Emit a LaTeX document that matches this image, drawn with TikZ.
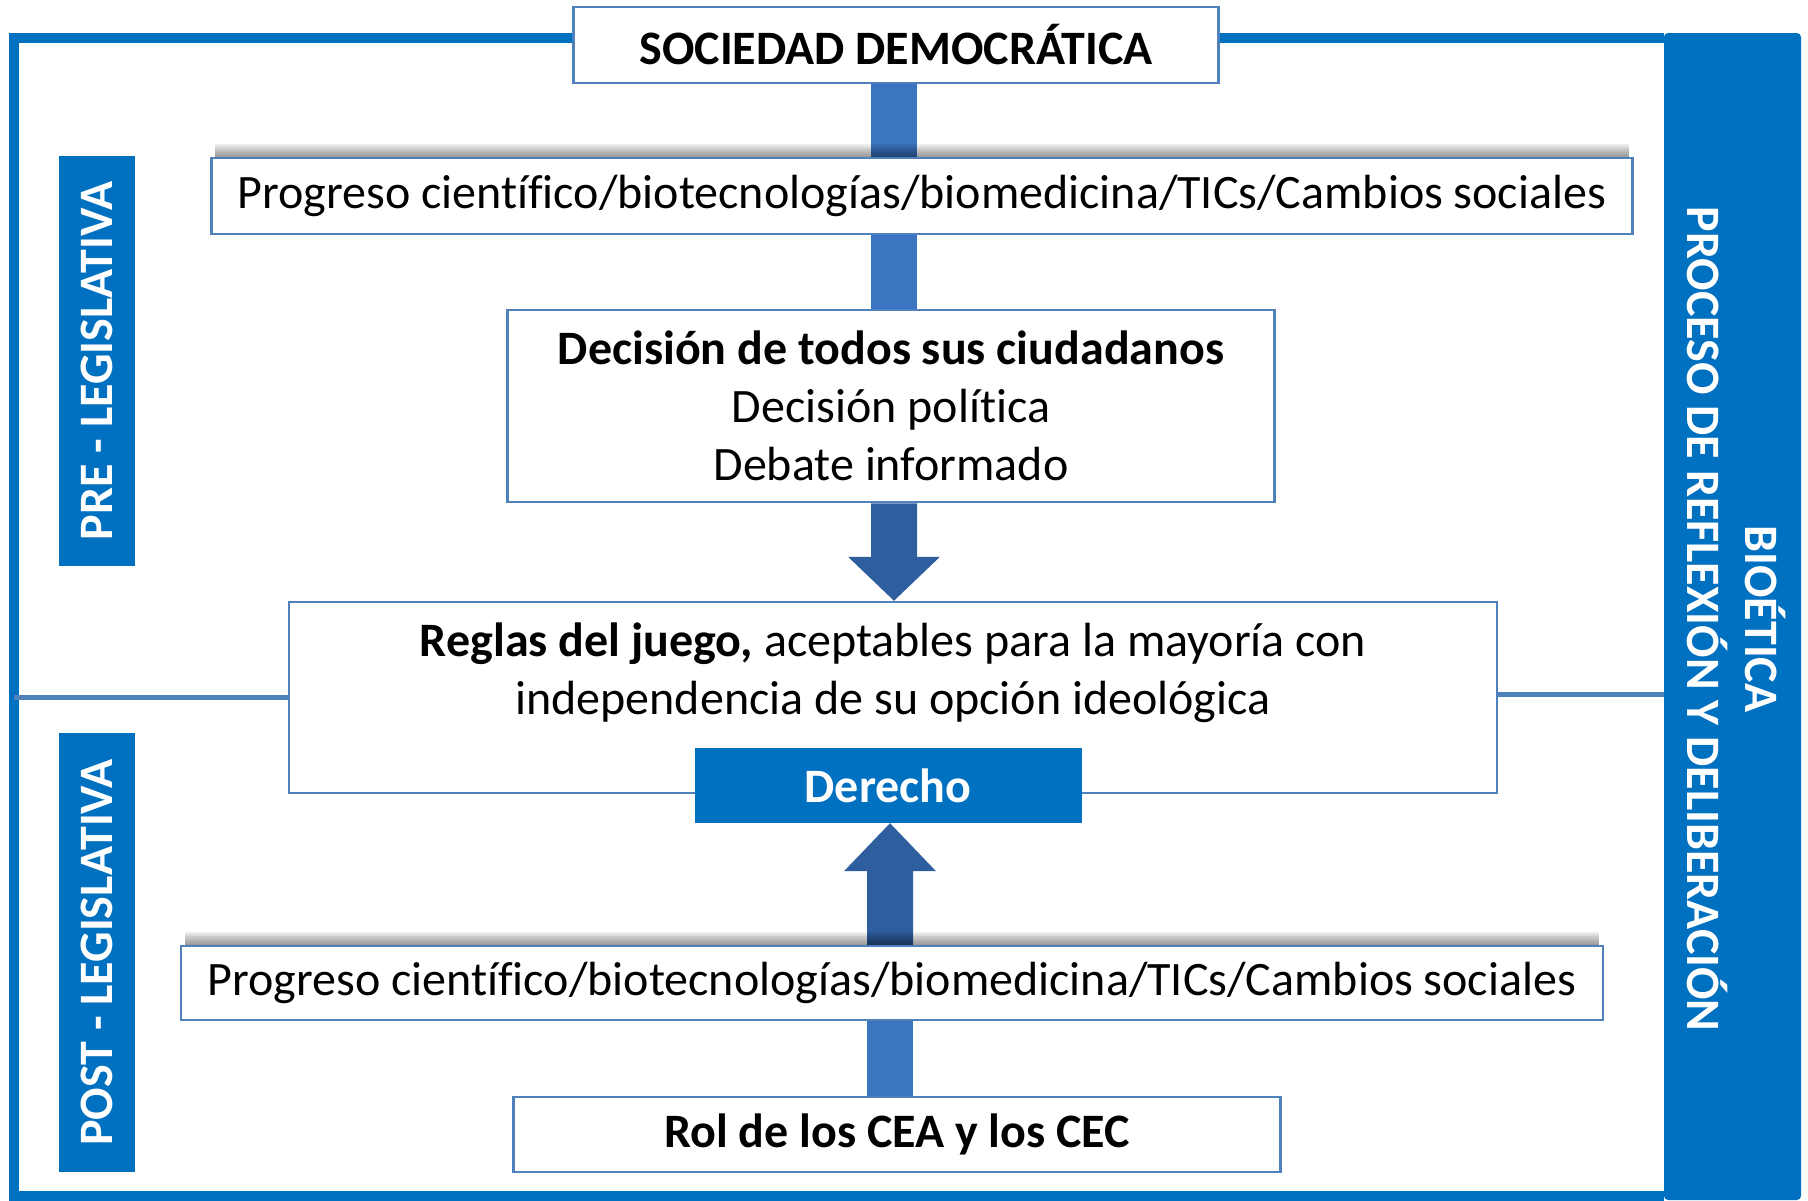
\documentclass[tikz,border=0pt]{standalone}
\usepackage{fontspec}
\setmainfont{Carlito}[Ligatures=NoCommon]
\usetikzlibrary{calc}
\definecolor{frameblue}{RGB}{0,112,192}
\definecolor{boxline}{RGB}{79,129,189}
\definecolor{shaftblue}{RGB}{59,117,193}
\definecolor{arrowblue}{RGB}{46,94,158}
\begin{document}
\begin{tikzpicture}[x=1pt,y=-1pt,
  txt/.style={font=\fontsize{48}{58}\selectfont},
  box/.style={draw=boxline, line width=2.5pt, fill=white, txt, align=center, inner sep=0pt},
  sidelabel/.style={fill=frameblue, text=white, inner sep=0pt, rotate=90,
     font=\fontsize{48}{58}\selectfont\bfseries, minimum height=76},
  shaft/.style={draw=shaftblue, line width=46pt},
  blockarrow/.style={fill=arrowblue},
  hline/.style={draw=boxline, line width=5pt},
  shadowstrip/.style={fill=black, opacity=0.07}]
\useasboundingbox (0,0) rectangle (1808,1200);
% outer frame and bar
\draw[frameblue, line width=10pt] (1664,38) -- (14,38) -- (14,1196) -- (1664,1196);
\fill[frameblue, rounded corners=4pt] (1664,33) rectangle (1801,1200);
\node[text=white, rotate=-90, align=center, inner sep=0pt,
      font=\fontsize{48}{58}\selectfont\bfseries] (bio) at (1736,619)
      {BIOÉTICA\\PROCESO DE REFLEXIÓN Y DELIBERACIÓN};
\coordinate (frameL) at (14,0);
\coordinate (barL) at (1664,0);
\coordinate (ax) at (894,0);
\coordinate (bx) at (890,0);
% side labels
\node[sidelabel, minimum width=410] (pre) at (97,361) {PRE - LEGISLATIVA};
\node[sidelabel, minimum width=439] (post) at (97,952.5) {POST - LEGISLATIVA};
% top box
\node[box, minimum width=645, minimum height=76] (soc) at (896,45) {\bfseries SOCIEDAD DEMOCRÁTICA};
\path (922,196) coordinate (b1c);
\path (893,697.5) coordinate (b3c);
% shaft soc -> b1 and b1 -> b2
\node[minimum width=1421, minimum height=76, inner sep=0pt] (b1g) at (b1c) {};
\draw[shaft] (soc.south -| ax) -- (b1g.north -| ax);
\foreach \i in {1,...,7}
  \fill[shadowstrip] ($(b1g.north west)+(4,-2*\i)$) rectangle ($(b1g.north east)+(-4,0)$);
\node[box, minimum width=1421, minimum height=76] (b1) at (b1c)
  {\raisebox{-3pt}{Progreso científico/biotecnologías/biomedicina/TICs/Cambios sociales}};
\node[box, minimum width=767, minimum height=192] (b2) at (891,406)
  {\bfseries Decisión de todos sus ciudadanos\\Decisión política\\Debate informado};
\draw[shaft] (b1.south -| ax) -- (b2.north -| ax);
% horizontal lines
\draw[hline] (b3c -| frameL) -- (b3c);
\draw[hline] ([yshift=3pt]b3c -| barL) -- ([yshift=3pt]b3c);
\node[box, minimum width=1208, minimum height=191] (b3) at (b3c) {};
\node[txt, align=center, inner sep=0pt] (b3t) at (893,673)
  {\textbf{Reglas del juego,} aceptables para la mayoría con\\independencia de su opción ideológica};
% down arrow
\fill[blockarrow] ($(b2.south -| ax)+(-23,0)$) -- ($(b3.north -| ax)+(-23,-44)$)
  -- ($(b3.north -| ax)+(-46,-44)$) -- (b3.north -| ax) -- ($(b3.north -| ax)+(46,-44)$)
  -- ($(b3.north -| ax)+(23,-44)$) -- ($(b2.south -| ax)+(23,0)$) -- cycle;
\node[fill=frameblue, text=white, minimum width=387, minimum height=75, inner sep=0pt,
      font=\fontsize{48}{58}\selectfont\bfseries] (der) at (888,785.5) {Derecho};
% lower part
\node[minimum width=1422, minimum height=74, inner sep=0pt] (b4g) at (892,983) {};
\fill[blockarrow] ($(b4g.north -| bx)+(-23,0)$) -- ($(der.south -| bx)+(-23,48)$)
  -- ($(der.south -| bx)+(-46,48)$) -- (der.south -| bx) -- ($(der.south -| bx)+(46,48)$)
  -- ($(der.south -| bx)+(23,48)$) -- ($(b4g.north -| bx)+(23,0)$) -- cycle;
\foreach \i in {1,...,7}
  \fill[shadowstrip] ($(b4g.north west)+(4,-2*\i)$) rectangle ($(b4g.north east)+(-4,0)$);
\node[box, minimum width=1422, minimum height=74] (b4) at (892,983)
  {\raisebox{-3pt}{Progreso científico/biotecnologías/biomedicina/TICs/Cambios sociales}};
\node[minimum width=767, minimum height=75, inner sep=0pt] (b5g) at (897,1134.5) {};
\draw[shaft] (b4.south -| bx) -- (b5g.north -| bx);
\node[box, minimum width=767, minimum height=75] (b5) at (b5g) {\bfseries\raisebox{-3pt}{Rol de los CEA y los CEC}};
\end{tikzpicture}
\end{document}
